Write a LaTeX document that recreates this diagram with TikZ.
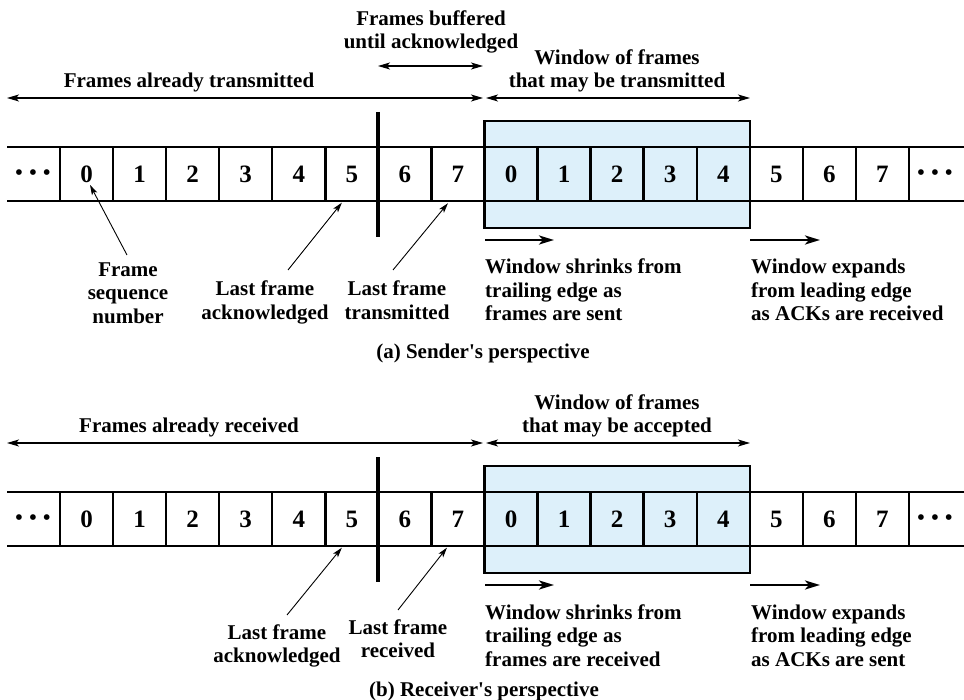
\documentclass[tikz,border=0pt]{standalone}
\usepackage{fontspec}
\setmainfont{Liberation Serif}
\usetikzlibrary{arrows.meta,calc}
\definecolor{winblue}{RGB}{221,240,250}
\newcommand\stripdraw[1]{%
  \node[winbox] (#1box) at (617.15,174.5) {};
  \foreach \d [count=\k from 0] in {0,1,2,3,4,5,6,7,0,1,2,3,4,5,6,7}{
    \node[cell] (#1\k) at ({60+53.06*(\k+0.5)},174) {\d};
  }
  \draw[stripline] (7,147) -- (964,147);
  \draw[stripline] (7,201) -- (964,201);
  \node[dots] (#1dl) at (33,175) {\textbullet\hspace{6.5pt}\textbullet\hspace{6.5pt}\textbullet};
  \node[dots] (#1dr) at (935,175) {\textbullet\hspace{6.5pt}\textbullet\hspace{6.5pt}\textbullet};
  \draw[barline] (378.4,112) -- (378.4,237);
  \coordinate (#1L) at (7,98);
  \coordinate (#1M) at (483,98);
  \coordinate (#1M2) at (486,98);
  \coordinate (#1R) at (750,98);
  \draw[dbl] (#1L) -- (#1M);
  \draw[dbl] (#1M2) -- (#1R);
  \coordinate (#1s1) at (485,240);
  \coordinate (#1s2) at (554,240);
  \coordinate (#1e1) at (750,240);
  \coordinate (#1e2) at (820,240);
  \draw[mov] (#1s1) -- (#1s2);
  \draw[mov] (#1e1) -- (#1e2);
}
\begin{document}
\begin{tikzpicture}[x=1pt,y=-1pt,
  every node/.style={font=\bfseries\fontsize{21}{23.5}\selectfont, inner sep=0pt},
  cell/.style={draw, line width=2.4pt, minimum width=53.06pt, minimum height=54pt,
    font=\bfseries\fontsize{25}{25}\selectfont},
  winbox/.style={draw, fill=winblue, line width=2.6pt, minimum width=265.3pt, minimum height=107pt},
  dots/.style={font=\bfseries\fontsize{21}{21}\selectfont},
  stripline/.style={line width=2.4pt},
  barline/.style={line width=4pt},
  lbl/.style={align=center, anchor=north},
  lbll/.style={align=left, anchor=north west},
  dbl/.style={line width=1.2pt, {Stealth[length=12pt,width=7pt,inset=3pt]}-{Stealth[length=12pt,width=7pt,inset=3pt]}},
  ptr/.style={line width=0.9pt, -{Stealth[length=10pt,width=6pt,inset=2.5pt]}},
  mov/.style={line width=2.6pt, -{Stealth[length=15pt,width=9pt,inset=4pt]}},
  ]
\useasboundingbox (0,0) rectangle (964,700);

% ---------- (a) sender ----------
\stripdraw{a}
\coordinate (aB1) at (378,66);
\coordinate (aB2) at (483,66);
\draw[dbl] (aB1) -- (aB2);
\node[lbl] (abuf) at (431,10.5) {Frames buffered\\until acknowledged};
\node[lbl] (adone) at (189,72.5) {Frames already transmitted};
\node[lbl] (awin) at (617,49.5) {Window of frames\\that may be transmitted};
\node[lbl] (afsn) at (128,262.5) {Frame\\sequence\\number};
\node[lbl] (aack) at (265,281) {Last frame\\acknowledged};
\node[lbl] (atx) at (397,281) {Last frame\\transmitted};
\node[lbll] (ashr) at (485,259) {Window shrinks from\\trailing edge as\\frames are sent};
\node[lbll] (aexp) at (751,259) {Window expands\\from leading edge\\as ACKs are received};
\node[lbl] (acap) at (483,344) {(a) Sender\textquotesingle s perspective};
\draw[ptr] ($(afsn.north)+(-1,-7.5)$) -- ($(a0.center)+(3.5,11)$);
\draw[ptr] ($(aack.north)+(23,-11)$) -- ($(a5.south)+(-10,0.5)$);
\draw[ptr] ($(atx.north)+(-4,-11)$) -- ($(a7.south)+(-10,1)$);

% ---------- (b) receiver ----------
\begin{scope}[yshift=-345pt]
\stripdraw{b}
\end{scope}
\node[lbl] (bdone) at (189,417.5) {Frames already received};
\node[lbl] (bwin) at (617,394.5) {Window of frames\\that may be accepted};
\node[lbl] (back) at (277,624.5) {Last frame\\acknowledged};
\node[lbl] (brx) at (398,619.5) {Last frame\\received};
\node[lbll] (bshr) at (485,604.5) {Window shrinks from\\trailing edge as\\frames are received};
\node[lbll] (bexp) at (751,604.5) {Window expands\\from leading edge\\as ACKs are sent};
\node[lbl] (bcap) at (484,682) {(b) Receiver\textquotesingle s perspective};
\draw[ptr] ($(back.north)+(10,-9.5)$) -- ($(b5.south)+(-10,0.5)$);
\draw[ptr] ($(brx.north)+(0,-9.5)$) -- ($(b7.south)+(-11,0.5)$);
\end{tikzpicture}
\end{document}
